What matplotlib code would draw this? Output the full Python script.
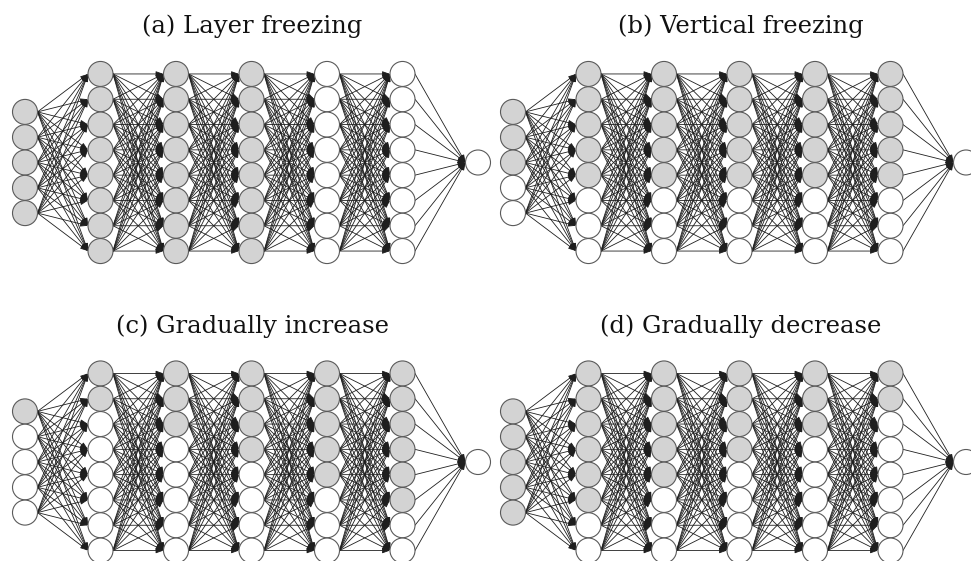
import matplotlib
matplotlib.use("Agg")
import matplotlib.pyplot as plt
from matplotlib.patches import Circle, FancyArrowPatch

# Network shape: input, five hidden layers, one output
layer_sizes = [5, 8, 8, 8, 8, 8, 1]

# Number of frozen (grey) nodes, counted from the top, for each layer
frozen_a = [5, 8, 8, 8, 0, 0, 0]
frozen_b = [3, 5, 5, 5, 5, 5, 0]
frozen_c = [1, 2, 3, 4, 5, 6, 0]
frozen_d = [5, 6, 5, 4, 3, 2, 0]

titles = ["(a) Layer freezing", "(b) Vertical freezing",
          "(c) Gradually increase", "(d) Gradually decrease"]
panels = [frozen_a, frozen_b, frozen_c, frozen_d]

W, H = 971, 561
fig = plt.figure(figsize=(W / 100, H / 100), dpi=100)
ax = fig.add_axes([0, 0, 1, 1])
ax.set_xlim(0, W)
ax.set_ylim(H, 0)
ax.axis("off")

R = 12.5          # node radius (px)
DX = 75.5         # layer spacing
DY = 25.3         # node spacing
FROZEN = "#d3d3d3"
EDGE = "#5a5a5a"


def draw_net(x0, yc, frozen):
    pos = []
    for li, n in enumerate(layer_sizes):
        x = x0 + li * DX
        ys = [yc + (k - (n - 1) / 2) * DY for k in range(n)]
        pos.append([(x, y) for y in ys])
    # edges with arrowheads
    for li in range(len(pos) - 1):
        for (xa, ya) in pos[li]:
            for (xb, yb) in pos[li + 1]:
                ax.add_patch(FancyArrowPatch(
                    (xa + R, ya), (xb - R, yb),
                    arrowstyle="-|>,head_length=0.45,head_width=0.16",
                    mutation_scale=10, lw=0.6, color="#1e1e1e",
                    shrinkA=0, shrinkB=0, zorder=2))
    # nodes
    for li, layer in enumerate(pos):
        for k, (x, y) in enumerate(layer):
            fc = FROZEN if k < frozen[li] else "white"
            ax.add_patch(Circle((x, y), R, fc=fc, ec=EDGE, lw=0.8, zorder=3))


offsets = [(25, 162.5), (513, 162.5), (25, 462), (513, 462)]
for (x0, yc), frozen, title in zip(offsets, panels, titles):
    draw_net(x0, yc, frozen)
    xc = x0 + (len(layer_sizes) - 1) * DX / 2
    ax.text(xc + 1, yc - 129.5, title, ha="center", va="baseline",
            fontsize=17.5, family="DejaVu Serif", color="#111111")

fig.savefig("out.png", dpi=100)
